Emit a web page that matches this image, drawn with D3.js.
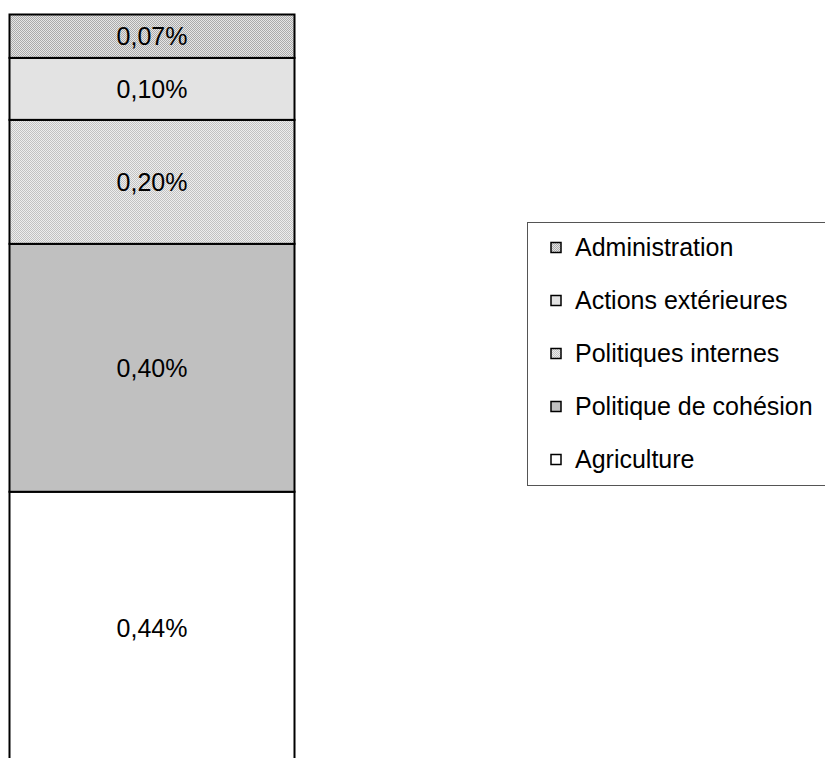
<!DOCTYPE html>
<html>
<head>
<meta charset="utf-8">
<script src="https://cdn.jsdelivr.net/npm/d3@7"></script>
<style>
  html, body { margin: 0; padding: 0; background: #fff; }
  svg { display: block; }
  text { font-family: "Liberation Sans", Arial, sans-serif; fill: #000; }
</style>
</head>
<body>
<svg id="chart" width="825" height="758"></svg>
<script>
// Budget shares, bottom to top of the stack
const categories = ["Agriculture", "Politique de cohésion", "Politiques internes", "Actions extérieures", "Administration"];
const values = [0.44, 0.40, 0.20, 0.10, 0.07];
const valueLabels = ["0,44%", "0,40%", "0,20%", "0,10%", "0,07%"];
// Legend order (top to bottom)
const legendOrder = ["Administration", "Actions extérieures", "Politiques internes", "Politique de cohésion", "Agriculture"];

const svg = d3.select("#chart");
const defs = svg.append("defs");

// Fine checker fills
function checker(id, light, dark) {
  const p = defs.append("pattern").attr("id", id)
    .attr("patternUnits", "userSpaceOnUse").attr("width", 2).attr("height", 2);
  p.append("rect").attr("width", 2).attr("height", 2).attr("fill", light);
  p.append("rect").attr("x", 0).attr("y", 0).attr("width", 1).attr("height", 1).attr("fill", dark);
  p.append("rect").attr("x", 1).attr("y", 1).attr("width", 1).attr("height", 1).attr("fill", dark);
}
checker("checkDark", "#e6e6e6", "#aaaaaa");
checker("checkLight", "#eeeeee", "#c2c2c2");

const fills = {
  "Agriculture": "#ffffff",
  "Politique de cohésion": "#c0c0c0",
  "Politiques internes": "url(#checkLight)",
  "Actions extérieures": "#e3e3e3",
  "Administration": "url(#checkDark)"
};

// Stack the values
let acc = 0;
const stacked = categories.map((c, i) => {
  const d = { cat: c, v: values[i], label: valueLabels[i], y0: acc, y1: acc + values[i] };
  acc += values[i];
  return d;
});
const total = acc;

const x = d3.scaleBand().domain(["bar"]).range([9.5, 294.5]).padding(0);
const y = d3.scaleLinear().domain([0, total]).range([764.5, 14.5]);

const bar = svg.append("g");
bar.selectAll("rect").data(stacked).join("rect")
  .attr("x", x("bar"))
  .attr("width", x.bandwidth())
  .attr("y", d => y(d.y1))
  .attr("height", d => y(d.y0) - y(d.y1))
  .attr("fill", d => fills[d.cat])
  .attr("stroke", "#000")
  .attr("stroke-width", 2);

bar.selectAll("text").data(stacked).join("text")
  .attr("x", x("bar") + x.bandwidth() / 2)
  .attr("y", d => (y(d.y0) + y(d.y1)) / 2)
  .attr("text-anchor", "middle")
  .attr("dominant-baseline", "central")
  .attr("font-size", 25)
  .text(d => d.label);

// Legend
const lg = svg.append("g");
lg.append("rect")
  .attr("x", 527.5).attr("y", 222.5)
  .attr("width", 320).attr("height", 263)
  .attr("fill", "#fff").attr("stroke", "#555").attr("stroke-width", 1);

const ly = d3.scalePoint().domain(legendOrder).range([247, 459]);
const items = lg.selectAll("g.item").data(legendOrder).join("g").attr("class", "item");
items.append("rect")
  .attr("x", 551).attr("y", d => ly(d) - 4.5)
  .attr("width", 10).attr("height", 10)
  .attr("fill", d => fills[d]).attr("stroke", "#000").attr("stroke-width", 1.5);
items.append("text")
  .attr("x", 575).attr("y", d => ly(d))
  .attr("dominant-baseline", "central")
  .attr("font-size", 25)
  .text(d => d);
</script>
</body>
</html>
